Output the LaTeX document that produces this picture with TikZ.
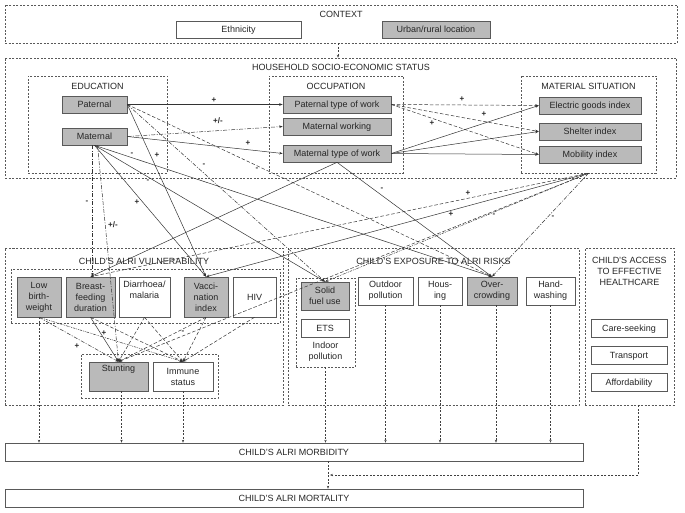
\documentclass[tikz,border=0pt]{standalone}
\usepackage{fontspec}
\setmainfont{Liberation Sans}
\usetikzlibrary{arrows.meta,shadows,calc}
\begin{document}
\begin{tikzpicture}[x=1pt,y=-1pt,
  every node/.style={font=\fontsize{9}{11}\selectfont, text=black!85},
  grp/.style={draw=black!65, dash pattern=on 2pt off 1.5pt, line width=0.5pt, inner sep=0pt},
  gbox/.style={draw=black!65, fill=black!27, line width=0.6pt, inner sep=0pt, align=center,
    drop shadow={shadow xshift=0.8pt, shadow yshift=-0.8pt, fill=black!40, opacity=1}},
  wbox/.style={draw=black!65, fill=white, line width=0.6pt, inner sep=0pt, align=center},
  one/.style={text height=6.4pt, text depth=0pt},
  arr/.style={-{Stealth[length=3.5pt,width=2.6pt]}},
  sol/.style={draw=black!80, line width=0.5pt, arr},
  dsh/.style={sol, dash pattern=on 3.5pt off 2pt},
  dd/.style={sol, dash pattern=on 4pt off 1.5pt on 1pt off 1.5pt},
  ddd/.style={sol, dash pattern=on 2.5pt off 1pt on 0.8pt off 1pt on 0.8pt off 1pt},
  bot/.style={draw=black!75, line width=0.5pt, dash pattern=on 2pt off 1.5pt, -{Stealth[length=3pt,width=2.4pt]}},
  lbl/.style={font=\fontsize{8}{9}\selectfont\bfseries, inner sep=0.5pt}
]
\useasboundingbox (0,0) rectangle (685,513);

% ---------- group boxes ----------
\node[grp, minimum width=672pt, minimum height=38pt] (ctx) at (341,24) {};
\node[grp, minimum width=671pt, minimum height=120pt] (ses) at (340.5,118) {};
\node[grp, minimum width=139pt, minimum height=97pt] (edu) at (97.5,124.5) {};
\node[grp, minimum width=134pt, minimum height=97pt] (occ) at (336,124.5) {};
\node[grp, minimum width=135pt, minimum height=97pt] (matsit) at (588.5,124.5) {};
\node[grp, minimum width=278pt, minimum height=157pt] (vul) at (144,326.5) {};
\node[grp, minimum width=269pt, minimum height=54pt] (vulin) at (145.5,296) {};
\node[grp, minimum width=137pt, minimum height=44pt] (stgrp) at (149.5,376) {};
\node[grp, minimum width=291pt, minimum height=157pt] (expo) at (433.5,326.5) {};
\node[grp, minimum width=59pt, minimum height=89pt] (indoor) at (325.5,322.5) {};
\node[grp, minimum width=89pt, minimum height=157pt] (acc) at (629.5,326.5) {};

% ---------- group labels ----------
\node[one] (ctxl) at (341,14) {CONTEXT};
\node[one] (sesl) at (341,67) {HOUSEHOLD SOCIO-ECONOMIC STATUS};
\node[one] (edul) at (97.5,86) {EDUCATION};
\node[one] (occl) at (336,86) {OCCUPATION};
\node[one] (matl) at (588.5,86) {MATERIAL SITUATION};
\node[one] (vull) at (144,261) {CHILD'S ALRI VULNERABILITY};
\node[one] (expl) at (433.5,261) {CHILD'S EXPOSURE TO ALRI RISKS};
\node[align=center] (accl) at (629.5,271) {CHILD'S ACCESS\\TO EFFECTIVE\\HEALTHCARE};
\node[align=center] (indl) at (325.5,351.5) {Indoor\\pollution};

% ---------- boxes ----------
\node[wbox, one, minimum width=125pt, minimum height=17pt] (eth) at (238.5,29.5) {Ethnicity};
\node[gbox, one, minimum width=108pt, minimum height=17pt] (urb) at (436,29.5) {Urban/rural location};

\node[gbox, one, minimum width=65pt, minimum height=17pt] (edpat) at (94.5,104.5) {Paternal};
\node[gbox, one, minimum width=65pt, minimum height=17pt] (edmat) at (94.5,136.5) {Maternal};

\node[gbox, one, minimum width=108pt, minimum height=17pt] (occpat) at (337,104.5) {Paternal type of work};
\node[gbox, one, minimum width=108pt, minimum height=17pt] (occwork) at (337,126.5) {Maternal working};
\node[gbox, one, minimum width=108pt, minimum height=17pt] (occmat) at (337,153.5) {Maternal type of work};

\node[gbox, one, minimum width=102pt, minimum height=17pt] (elec) at (590,105.5) {Electric goods index};
\node[gbox, one, minimum width=102pt, minimum height=17pt] (shel) at (590,131.5) {Shelter index};
\node[gbox, one, minimum width=102pt, minimum height=17pt] (mobi) at (590,154.5) {Mobility index};

\node[gbox, minimum width=44pt, minimum height=40pt] (low) at (39,297) {Low\\birth-\\weight};
\node[gbox, minimum width=49pt, minimum height=40pt] (breast) at (90.5,297) {Breast-\\feeding\\duration};
\node[wbox, minimum width=51pt, minimum height=40pt] (diar) at (144.5,297) {Diarrhoea/\\malaria\\[4pt]};
\node[gbox, minimum width=44pt, minimum height=40pt] (vacc) at (206,297) {Vacci-\\nation\\index};
\node[wbox, one, minimum width=43pt, minimum height=40pt] (hiv) at (254.5,297) {HIV};

\node[gbox, minimum width=59pt, minimum height=29pt] (stunt) at (118.5,376.5) {Stunting\\[6pt]};
\node[wbox, minimum width=60pt, minimum height=29pt] (immune) at (183,376.5) {Immune\\status};

\node[gbox, minimum width=48pt, minimum height=28pt] (solid) at (325,296) {Solid\\fuel use};
\node[wbox, one, minimum width=48pt, minimum height=18pt] (ets) at (325,328) {ETS};
\node[wbox, minimum width=55pt, minimum height=28pt] (outdoor) at (385.5,291) {Outdoor\\pollution};
\node[wbox, minimum width=44pt, minimum height=28pt] (housing) at (440,291) {Hous-\\ing};
\node[gbox, minimum width=50pt, minimum height=28pt] (crowd) at (492,291) {Over-\\crowding};
\node[wbox, minimum width=49pt, minimum height=28pt] (hand) at (550.5,291) {Hand-\\washing};

\node[wbox, one, minimum width=76pt, minimum height=18pt] (care) at (629,328) {Care-seeking};
\node[wbox, one, minimum width=76pt, minimum height=18pt] (transp) at (629,355) {Transport};
\node[wbox, one, minimum width=76pt, minimum height=18pt] (afford) at (629,382) {Affordability};

\node[wbox, one, minimum width=578pt, minimum height=18pt] (morb) at (294,452) {CHILD'S ALRI MORBIDITY};
\node[wbox, one, minimum width=578pt, minimum height=18pt] (mort) at (294,498) {CHILD'S ALRI MORTALITY};

% ---------- connectors: SES ----------
\draw[sol] (edpat.east) -- (occpat.west);
\draw[dd] (edmat.east) -- (occwork.west);
\draw[sol] (edmat.east) -- (occmat.west);
\draw[dsh] (occpat.east) -- (elec.west);
\draw[dsh] (occpat.east) -- (shel.west);
\draw[dsh] (occpat.east) -- (mobi.west);
\draw[sol] (occmat.east) -- (elec.west);
\draw[sol] (occmat.east) -- (shel.west);
\draw[sol] (occmat.east) -- (mobi.west);

% ---------- connectors: SES -> vulnerability / exposure ----------
\draw[sol] (edpat.east) -- (vacc.north);
\draw[dd] (edpat.east) -- (solid.north);
\draw[dsh] (edpat.east) -- (crowd.north);
\draw[sol] (edmat.south) -- (crowd.north);
\draw[sol] (edmat.south) -- (vacc.north);
\draw[sol] (edmat.south) -- (solid.north);
\draw[dd] ([xshift=-2pt]edmat.south) -- ([xshift=-2pt]edmat.south |- breast.north);
\draw[dd] ([xshift=3pt]edmat.south) -- (stunt.north);
\draw[sol] (occmat.south) -- (breast.north);
\draw[sol] (occmat.south) -- (crowd.north);
\draw[dsh] (matsit.south) -- (breast.north);
\draw[sol] (matsit.south) -- (vacc.north);
\draw[ddd] (matsit.south) -- (solid.north);
\draw[dd] (matsit.south) -- (crowd.north);
\draw[dsh] (matsit.south) -- (stunt.north);

% ---------- connectors: within vulnerability ----------
\draw[dd] (low.south) -- (stunt.north);
\draw[ddd] (low.south) -- (immune.north);
\draw[sol] (breast.south) -- (stunt.north);
\draw[dsh] (breast.south) -- (immune.north);
\draw[dsh] (diar.south) -- (stunt.north);
\draw[dsh] (diar.south) -- (immune.north);
\draw[dsh] (vacc.south) -- (stunt.north);
\draw[dsh] (vacc.south) -- (immune.north);
\draw[dsh] (hiv.south) -- (immune.north);

% ---------- vertical arrows ----------
\draw[bot] ([xshift=-3pt]ctx.south) -- ([xshift=-3pt]ctx.south |- ses.north);
\draw[bot] (low.south) -- (low.south |- morb.north);
\draw[bot] ([xshift=3pt]stunt.south) -- ([xshift=3pt]stunt.south |- morb.north);
\draw[bot] (immune.south) -- (immune.south |- morb.north);
\draw[bot] (indoor.south) -- (indoor.south |- morb.north);
\draw[bot] (outdoor.south) -- (outdoor.south |- morb.north);
\draw[bot] (housing.south) -- (housing.south |- morb.north);
\draw[bot] ([xshift=4pt]crowd.south) -- ([xshift=4pt]crowd.south |- morb.north);
\draw[bot] (hand.south) -- (hand.south |- morb.north);
\coordinate (join) at (330,475);
\draw[bot] ([xshift=8.5pt]acc.south) |- (join);
\draw[bot] ([xshift=34pt]morb.south) -- ([xshift=34pt]morb.south |- mort.north);

% ---------- signs ----------
\node[lbl] (s1) at (214,100) {+};
\node[lbl] (s2) at (218,121) {+/-};
\node[lbl] (s3) at (248,143) {+};
\node[lbl] (s4) at (157,155) {+};
\node[lbl] (s5) at (204,165) {-};
\node[lbl] (s6) at (257,169) {-};
\node[lbl] (s7) at (132,154) {-};
\node[lbl] (s8) at (148,181) {-};
\node[lbl] (s9) at (137,202) {+};
\node[lbl] (s10) at (87,202) {-};
\node[lbl] (s11) at (113,225) {+/-};
\node[lbl] (s12) at (382,189) {-};
\node[lbl] (s13) at (462,99) {+};
\node[lbl] (s14) at (484,114) {+};
\node[lbl] (s15) at (432,123) {+};
\node[lbl] (s16) at (468,193) {+};
\node[lbl] (s17) at (451,214) {+};
\node[lbl] (s18) at (494,215) {-};
\node[lbl] (s19) at (553,217) {-};
\node[lbl] (s20) at (104,333) {+};
\node[lbl] (s21) at (77,346) {+};
\node[lbl] (s22) at (183,332) {-};
\end{tikzpicture}
\end{document}
